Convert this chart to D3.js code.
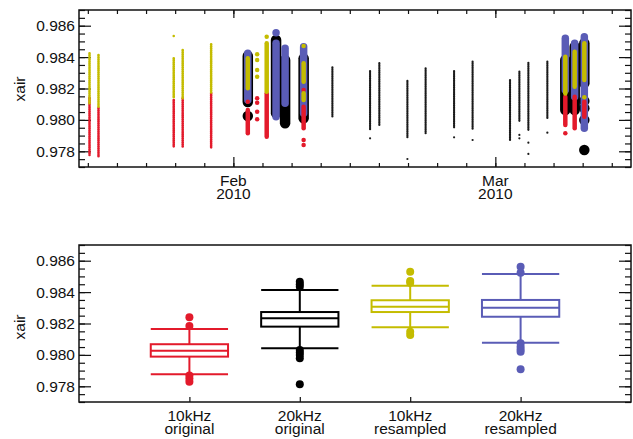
<!DOCTYPE html>
<html>
<head>
<meta charset="utf-8">
<script src="https://cdn.jsdelivr.net/npm/d3@7"></script>
<style>
body { margin: 0; background: #fff; }
svg { display: block; font-family: "Liberation Sans", Arial, Helvetica, sans-serif; }
.lbl { font-size: 15.5px; fill: #111; }
</style>
</head>
<body>
<svg width="633" height="439"></svg>
<script>
// **** data ****
// strips: [time, low, high]  (low == high for a lone point)

var redFine = [
    ["2010-01-16 15:00", 0.97777, 0.98140],
    ["2010-01-17 14:00", 0.97766, 0.98076],
    ["2010-01-25 15:00", 0.97829, 0.98127],
    ["2010-01-26 14:00", 0.97829, 0.98138],
    ["2010-01-29 15:00", 0.97819, 0.98169]
];
var yellowFine = [
    ["2010-01-16 15:00", 0.98106, 0.98424],
    ["2010-01-17 14:00", 0.98084, 0.98413],
    ["2010-01-25 15:00", 0.98138, 0.98392],
    ["2010-01-25 15:00", 0.98534, 0.98534],
    ["2010-01-26 14:00", 0.98138, 0.98445],
    ["2010-01-29 15:00", 0.98169, 0.98482]
];
var blackFine = [
    ["2010-02-11 14:00", 0.98017, 0.98335],
    ["2010-02-15 14:40", 0.97936, 0.98311],
    ["2010-02-15 14:40", 0.97883, 0.97883],
    ["2010-02-16 14:25", 0.97968, 0.98361],
    ["2010-02-19 14:25", 0.97883, 0.98248],
    ["2010-02-19 14:25", 0.97751, 0.97751],
    ["2010-02-21 13:10", 0.97915, 0.98329],
    ["2010-02-24 14:10", 0.97947, 0.98311],
    ["2010-02-24 14:10", 0.97889, 0.97889],
    ["2010-02-26 13:40", 0.97936, 0.98371],
    ["2010-02-26 13:40", 0.97872, 0.97872],
    ["2010-03-02 13:40", 0.97872, 0.98254],
    ["2010-03-03 13:40", 0.97989, 0.98307],
    ["2010-03-03 13:40", 0.97904, 0.97904],
    ["2010-03-03 13:40", 0.97883, 0.97883],
    ["2010-03-04 12:45", 0.97936, 0.98364],
    ["2010-03-04 12:45", 0.97855, 0.97855],
    ["2010-03-04 12:45", 0.97783, 0.97783],
    ["2010-03-06 13:25", 0.98010, 0.98371],
    ["2010-03-06 13:25", 0.97919, 0.97919]
];
var blackBig = [
    ["2010-02-02 13:00", 0.98114, 0.98407],
    ["2010-02-02 13:00", 0.98025, 0.98025],
    ["2010-02-05 13:30", 0.98042, 0.98509],
    ["2010-02-06 12:40", 0.97978, 0.98382],
    ["2010-02-08 12:15", 0.98010, 0.98392],
    ["2010-03-08 11:30", 0.98063, 0.98382],
    ["2010-03-09 11:30", 0.98063, 0.98466],
    ["2010-03-10 12:15", 0.98233, 0.98488],
    ["2010-03-10 12:15", 0.98120, 0.98120],
    ["2010-03-10 12:15", 0.98074, 0.98074],
    ["2010-03-10 12:15", 0.97999, 0.97999],
    ["2010-03-10 12:15", 0.97808, 0.97808]
];
var blueBig = [
    ["2010-02-02 13:00", 0.98127, 0.98424],
    ["2010-02-05 13:30", 0.98020, 0.98488],
    ["2010-02-05 13:30", 0.98555, 0.98555],
    ["2010-02-06 12:40", 0.98106, 0.98456],
    ["2010-02-08 12:15", 0.98042, 0.98466],
    ["2010-03-08 11:30", 0.98190, 0.98520],
    ["2010-03-09 11:30", 0.98148, 0.98488],
    ["2010-03-10 12:15", 0.97947, 0.98530]
];
var redMid = [
    ["2010-02-02 13:00", 0.98116, 0.98116],
    ["2010-02-02 13:00", 0.97915, 0.98063],
    ["2010-02-03 13:00", 0.98138, 0.98138],
    ["2010-02-03 13:00", 0.98110, 0.98110],
    ["2010-02-03 13:00", 0.98052, 0.98052],
    ["2010-02-03 13:00", 0.98004, 0.98004],
    ["2010-02-04 13:30", 0.97893, 0.98169],
    ["2010-02-08 12:15", 0.98190, 0.98190],
    ["2010-02-08 12:15", 0.97947, 0.98084],
    ["2010-02-08 12:15", 0.97872, 0.97872],
    ["2010-02-08 12:15", 0.97840, 0.97840],
    ["2010-03-08 11:30", 0.97968, 0.98148],
    ["2010-03-08 11:30", 0.97915, 0.97915],
    ["2010-03-09 11:30", 0.97947, 0.98148],
    ["2010-03-10 12:15", 0.98020, 0.98116]
];
var yellowMid = [
    ["2010-02-02 13:00", 0.98201, 0.98392],
    ["2010-02-03 13:00", 0.98418, 0.98418],
    ["2010-02-03 13:00", 0.98382, 0.98382],
    ["2010-02-03 13:00", 0.98318, 0.98318],
    ["2010-02-03 13:00", 0.98275, 0.98275],
    ["2010-02-04 13:30", 0.98180, 0.98488],
    ["2010-02-04 13:30", 0.98530, 0.98530],
    ["2010-02-08 12:15", 0.98471, 0.98471],
    ["2010-02-08 12:15", 0.98243, 0.98361],
    ["2010-02-08 12:15", 0.98127, 0.98169],
    ["2010-03-08 11:30", 0.98169, 0.98403],
    ["2010-03-09 11:30", 0.98212, 0.98434],
    ["2010-03-10 12:15", 0.98254, 0.98488],
    ["2010-03-10 12:15", 0.98144, 0.98144]
];

var monthTicks = ["2010-02-01 00:00", "2010-03-01 00:00"];
var monthLabels = [["Feb", "2010"], ["Mar", "2010"]];
var yTicks = [0.978, 0.980, 0.982, 0.984, 0.986];

// box plot summary
var boxCats = [["10kHz", "original"], ["20kHz", "original"], ["10kHz", "resampled"], ["20kHz", "resampled"]];
var boxColors = ["#e31a2b", "#000000", "#c4bc00", "#5a5cb6"];
var whiskHi = [0.98165, 0.98413, 0.98441, 0.98515];
var boxQ3   = [0.98068, 0.98273, 0.98348, 0.98350];
var boxMed  = [0.98027, 0.98233, 0.98307, 0.98301];
var boxQ1   = [0.97989, 0.98180, 0.98273, 0.98243];
var whiskLo = [0.97876, 0.98042, 0.98176, 0.98078];
var outliers = [
    [0.98240, 0.98184, 0.97868, 0.97850, 0.97829],
    [0.98466, 0.98450, 0.98434, 0.98031, 0.98015, 0.98000, 0.97978, 0.97813],
    [0.98530, 0.98471, 0.98460, 0.98148, 0.98127],
    [0.98562, 0.98524, 0.98074, 0.98052, 0.98035, 0.98020, 0.97908]
];

// **** scales ****
var parse = d3.timeParse("%Y-%m-%d %H:%M");
var L = 79, R = 631;

var xTime = d3.scaleTime()
    .domain([parse("2010-01-15 12:00"), parse("2010-03-15 12:00")]).range([L, R]);
var yTop = d3.scaleLinear().domain([0.977, 0.987]).range([167, 10]);
var yBot = d3.scaleLinear().domain([0.977, 0.987]).range([402, 245]);
var xBox = d3.scalePoint().domain(d3.range(boxCats.length)).range([L, R]).padding(1);

var svg = d3.select('svg');

svg.append('defs').append('clipPath').attr('id', 'clipTop')
    .append('rect').attr('x', L).attr('y', 10).attr('width', R - L).attr('height', 157);

// y axes (ticks inside, mirrored on the right)
var minorY = d3.range(21).map(function(i){ return 0.977 + i * 0.0005; });

function yAxes(y) {
    var g = svg.append('g');
    g.append('g').attr('transform', 'translate(' + L + ',0)')
        .call(d3.axisLeft(y).tickValues(minorY).tickSize(-6).tickFormat(''));
    g.append('g').attr('transform', 'translate(' + L + ',0)')
        .call(d3.axisLeft(y).tickValues(yTicks).tickSize(-12).tickPadding(4).tickFormat(d3.format('.3f')));
    g.append('g').attr('transform', 'translate(' + R + ',0)')
        .call(d3.axisRight(y).tickValues(minorY).tickSize(-6).tickFormat(''));
    g.append('g').attr('transform', 'translate(' + R + ',0)')
        .call(d3.axisRight(y).tickValues(yTicks).tickSize(-12).tickFormat(''));
    g.selectAll('.domain').remove();
    g.selectAll('.tick line').attr('stroke', '#111').attr('stroke-width', 1.2);
    g.selectAll('.tick text').attr('class', 'lbl').attr('font-size', null).attr('font-family', null);
    return g;
}

yAxes(yTop);
yAxes(yBot);

// time axis ticks
var feb1 = parse(monthTicks[0]);
var minorX = d3.range(-5, 14).map(function(k){ return new Date(feb1.getTime() + k * 28 / 9 * 864e5); });
var majorX = monthTicks.map(parse);

var xg = svg.append('g');
xg.append('g').attr('transform', 'translate(0,167)')
    .call(d3.axisBottom(xTime).tickValues(minorX).tickSize(-4).tickFormat(''));
xg.append('g').attr('transform', 'translate(0,167)')
    .call(d3.axisBottom(xTime).tickValues(majorX).tickSize(-10).tickFormat(''));
xg.append('g').attr('transform', 'translate(0,10)')
    .call(d3.axisTop(xTime).tickValues(minorX).tickSize(-4).tickFormat(''));
xg.append('g').attr('transform', 'translate(0,10)')
    .call(d3.axisTop(xTime).tickValues(majorX).tickSize(-8).tickFormat(''));
xg.selectAll('.domain').remove();
xg.selectAll('.tick line').attr('stroke', '#111').attr('stroke-width', 1.2);

majorX.forEach(function(d, i){
    var t = svg.append('text').attr('class', 'lbl').attr('text-anchor', 'middle')
        .attr('transform', 'translate(' + xTime(d) + ',186)');
    t.append('tspan').attr('x', 0).attr('y', 0).text(monthLabels[i][0]);
    t.append('tspan').attr('x', 0).attr('y', 13).text(monthLabels[i][1]);
});

// **** top panel: strips of points ****
var plot = svg.append('g').attr('clip-path', 'url(#clipTop)');

function drawStrips(data, color, w, dash) {
    plot.append('g').selectAll('line').data(data).enter().append('line')
        .attr('x1', function(d){ return xTime(parse(d[0])); })
        .attr('x2', function(d){ return xTime(parse(d[0])); })
        .attr('y1', function(d){ return yTop(d[2]); })
        .attr('y2', function(d){ return yTop(d[1]) + 0.01; })
        .attr('stroke', color)
        .attr('stroke-width', w)
        .attr('stroke-linecap', 'round')
        .attr('stroke-dasharray', dash || null);
}

drawStrips(blackBig, '#000', 10.5);
drawStrips(blackFine, '#1a1a1a', 2.2, '0.5,1.3');
drawStrips(blueBig, '#5a5cb6', 7.5);
drawStrips(redFine, '#e31a2b', 2.6, '0.8,1.1');
drawStrips(redMid, '#e31a2b', 4.5);
drawStrips(yellowFine, '#c4bc00', 2.6, '0.8,1.1');
drawStrips(yellowMid, '#c4bc00', 4.5);

// **** bottom panel: box plots ****
var bx = svg.append('g');
var hw = xBox.step() * 0.35;

boxCats.forEach(function(c, i){
    var cx = xBox(i), col = boxColors[i];
    var g = bx.append('g').attr('stroke', col).attr('stroke-width', 2).attr('fill', 'none');
    g.append('line').attr('x1', cx).attr('x2', cx).attr('y1', yBot(whiskHi[i])).attr('y2', yBot(boxQ3[i]));
    g.append('line').attr('x1', cx).attr('x2', cx).attr('y1', yBot(boxQ1[i])).attr('y2', yBot(whiskLo[i]));
    [whiskHi[i], whiskLo[i]].forEach(function(v){
        g.append('line').attr('x1', cx - hw).attr('x2', cx + hw).attr('y1', yBot(v)).attr('y2', yBot(v));
    });
    g.append('rect').attr('x', cx - hw).attr('width', 2 * hw)
        .attr('y', yBot(boxQ3[i])).attr('height', yBot(boxQ1[i]) - yBot(boxQ3[i]))
        .attr('fill', '#fff');
    g.append('line').attr('x1', cx - hw).attr('x2', cx + hw).attr('y1', yBot(boxMed[i])).attr('y2', yBot(boxMed[i]));
    bx.append('g').selectAll('circle').data(outliers[i]).enter().append('circle')
        .attr('cx', cx).attr('cy', function(d){ return yBot(d); }).attr('r', 4).attr('fill', col);

    var t = bx.append('text').attr('class', 'lbl').attr('text-anchor', 'middle')
        .attr('transform', 'translate(' + cx + ',421)');
    t.append('tspan').attr('x', 0).attr('y', 0).text(c[0]);
    t.append('tspan').attr('x', 0).attr('y', 13).text(c[1]);
});

var bxAx = svg.append('g').attr('transform', 'translate(0,402)')
    .call(d3.axisBottom(xBox).tickSize(-5).tickFormat(''));
bxAx.select('.domain').remove();
bxAx.selectAll('.tick line').attr('stroke', '#111').attr('stroke-width', 1.2);

// frames
[[10, 167], [245, 402]].forEach(function(p){
    svg.append('rect').attr('x', L).attr('y', p[0]).attr('width', R - L).attr('height', p[1] - p[0])
        .attr('fill', 'none').attr('stroke', '#111').attr('stroke-width', 1.5);
});

// y labels
svg.append('text').text('xair').attr('class', 'lbl').attr('text-anchor', 'middle')
    .attr('transform', 'translate(25,89) rotate(-90)');
svg.append('text').text('xair').attr('class', 'lbl').attr('text-anchor', 'middle')
    .attr('transform', 'translate(25,327) rotate(-90)');
</script>
</body>
</html>
